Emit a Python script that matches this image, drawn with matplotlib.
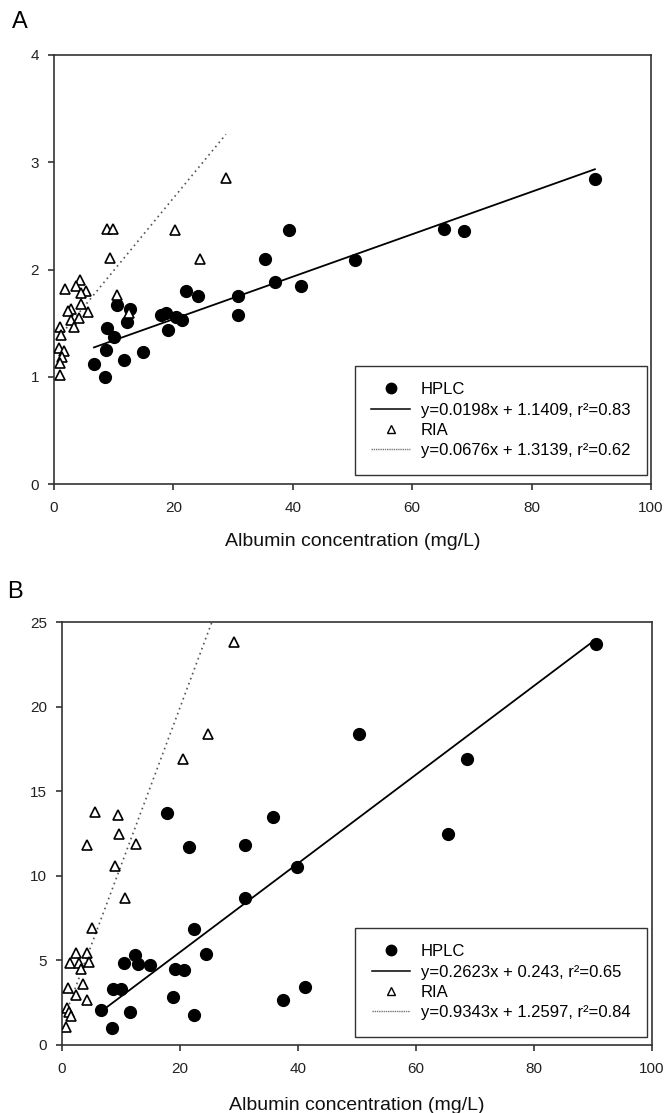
import numpy as np
import matplotlib
matplotlib.use("Agg")
import matplotlib.pyplot as plt
from matplotlib.lines import Line2D

plt.rcParams['font.family'] = ['Liberation Sans', 'DejaVu Sans']

# ---- panel A data ----
a_hplc_x = [39.4, 35.4, 37.1, 41.3, 22.1, 24.2, 30.8, 30.8, 10.6, 12.8, 12.2, 17.9, 18.8,
            20.4, 21.4, 19.1, 8.8, 10.1, 8.7, 14.9, 11.7, 6.7, 8.5, 50.5, 65.4, 68.6, 90.6]
a_hplc_y = [2.37, 2.10, 1.88, 1.85, 1.80, 1.75, 1.75, 1.58, 1.67, 1.63, 1.51, 1.58, 1.59,
            1.56, 1.53, 1.44, 1.45, 1.37, 1.25, 1.23, 1.16, 1.12, 1.00, 2.09, 2.38, 2.36, 2.84]
a_ria_x = [28.8, 8.9, 9.9, 20.3, 9.4, 24.4, 10.6, 12.6, 1.8, 4.4, 3.7, 5.4, 4.5, 4.5,
           2.8, 5.75, 2.4, 4.2, 2.8, 3.35, 1.0, 1.1, 0.9, 1.6, 1.3, 1.0, 1.0]
a_ria_y = [2.85, 2.38, 2.38, 2.37, 2.11, 2.10, 1.76, 1.59, 1.82, 1.90, 1.85, 1.80, 1.78, 1.68,
           1.63, 1.60, 1.61, 1.55, 1.53, 1.46, 1.46, 1.39, 1.27, 1.24, 1.18, 1.13, 1.02]
a_hplc_fit = (0.0198, 1.1409)
a_ria_fit = (0.0676, 1.3139)
a_labels = ["HPLC", "y=0.0198x + 1.1409, r\u00b2=0.83", "RIA", "y=0.0676x + 1.3139, r\u00b2=0.62"]

# ---- panel B data ----
b_hplc_x = [17.8, 35.8, 21.6, 31.1, 39.9, 31.1, 22.3, 24.4, 12.3, 10.5, 12.9, 14.9, 19.1, 20.7,
            8.6, 10.0, 18.8, 37.5, 6.6, 11.6, 22.3, 8.4, 50.3, 68.6, 65.4, 90.5, 41.2]
b_hplc_y = [13.7, 13.5, 11.7, 11.8, 10.5, 8.66, 6.87, 5.35, 5.31, 4.82, 4.76, 4.72, 4.47, 4.43,
            3.29, 3.29, 2.85, 2.66, 2.07, 1.93, 1.77, 0.98, 18.4, 16.9, 12.5, 23.7, 3.45]
b_ria_x = [29.1, 24.7, 20.5, 5.6, 9.5, 9.7, 4.2, 12.6, 9.0, 10.6, 5.1,
           2.3, 4.3, 1.4, 2.9, 4.5, 3.3, 3.6, 1.0, 2.3, 4.3, 0.8, 1.2, 1.5, 0.6]
b_ria_y = [23.8, 18.4, 16.9, 13.8, 13.6, 12.5, 11.8, 11.9, 10.6, 8.7, 6.9,
           5.42, 5.46, 4.83, 4.86, 4.92, 4.47, 3.59, 3.35, 2.96, 2.66, 2.17, 1.97, 1.71, 1.05]
b_hplc_fit = (0.2623, 0.243)
b_ria_fit = (0.9343, 1.2597)
b_labels = ["HPLC", "y=0.2623x + 0.243, r\u00b2=0.65", "RIA", "y=0.9343x + 1.2597, r\u00b2=0.84"]

xlabel = "Albumin concentration (mg/L)"


def draw_panel(ax, hx, hy, rx, ry, hfit, rfit, labels, ymax, ystep, legend_anchor, lpad):
    #regression lines over the range of each series
    xs = np.array([min(hx), max(hx)])
    ax.plot(xs, hfit[0] * xs + hfit[1], color="black", lw=1.3, zorder=2)
    xs = np.array([min(rx), max(rx)])
    ax.plot(xs, rfit[0] * xs + rfit[1], color="#555555", lw=1.2, ls=(0, (1, 2.2)), zorder=1)

    ax.plot(hx, hy, "o", color="black", ms=8.5, ls="none", zorder=3)
    ax.plot(rx, ry, "^", mfc="white", mec="black", mew=1.2, ms=7.5, ls="none", zorder=4)

    ax.set_xlim(0, 100)
    ax.set_ylim(0, ymax)
    ax.set_xticks(np.arange(0, 101, 20))
    ax.set_yticks(np.arange(0, ymax + 0.01, ystep))
    ax.tick_params(direction="out", length=4.3, width=1.1, labelsize=11, colors="#222222")
    ax.tick_params(axis="x", pad=8)
    ax.tick_params(axis="y", pad=6.5)
    for s in ax.spines.values():
        s.set_linewidth(1.2)
        s.set_color("#333333")
    ax.set_xlabel(xlabel, fontsize=14, labelpad=lpad, color="#111111")

    handles = [
        Line2D([], [], marker="o", color="black", ls="none", ms=7.5),
        Line2D([], [], color="black", lw=1.1),
        Line2D([], [], marker="^", mfc="white", mec="black", mew=1.0, ls="none", ms=6),
        Line2D([], [], color="#777777", lw=1.0, ls=(0, (1, 0.6))),
    ]
    leg = ax.legend(handles, labels, loc="lower right", bbox_to_anchor=legend_anchor,
                    bbox_transform=ax.transAxes, fontsize=12, frameon=True, fancybox=False,
                    framealpha=1, edgecolor="#333333", borderaxespad=0, borderpad=1.0,
                    labelspacing=0.32, handlelength=2.3, handletextpad=0.65)
    leg.get_frame().set_linewidth(1.0)


fig = plt.figure(figsize=(6.67, 11.13), dpi=100)

axA = fig.add_axes([54 / 667, 1 - 484 / 1113, 597 / 667, 429 / 1113])
draw_panel(axA, a_hplc_x, a_hplc_y, a_ria_x, a_ria_y, a_hplc_fit, a_ria_fit, a_labels,
           4, 1, (0.993, 0.021), 13)

axB = fig.add_axes([62 / 667, 1 - 1045 / 1113, 590 / 667, 423 / 1113])
draw_panel(axB, b_hplc_x, b_hplc_y, b_ria_x, b_ria_y, b_hplc_fit, b_ria_fit, b_labels,
           25, 5, (0.992, 0.019), 15)

fig.text(12 / 667, 1 - 22 / 1113, "A", fontsize=17, va="center", ha="left")
fig.text(7 / 667, 1 - 592 / 1113, "B", fontsize=17, va="center", ha="left")

fig.savefig("out.png", dpi=100)
